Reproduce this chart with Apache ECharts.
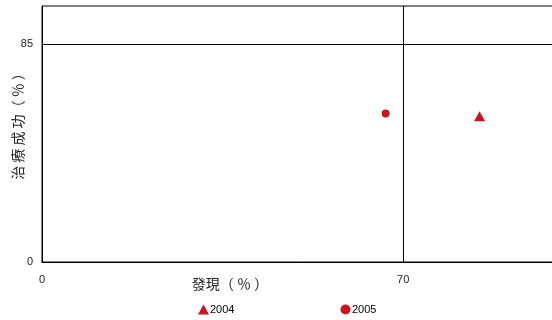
<!DOCTYPE html>
<html><head><meta charset="utf-8">
<script src="https://cdn.jsdelivr.net/npm/echarts@6/dist/echarts.min.js"></script>
<style>html,body{margin:0;padding:0;background:#fff}#c{width:552px;height:320px}</style>
</head><body><div id="c"></div>
<script>
const seriesNames = ['2004', '2005'];
const data2004 = [[84.8, 56.9]];
const data2005 = [[66.6, 58.0]];
const xLabels = [0, 70];
const yLabels = [0, 85];
const refX = 70;
const refY = 85;
const xTitle = '發現（ ％ ）';
const yTitle = '治 療 成 功（ ％ ）';

const chart = echarts.init(document.getElementById('c'), null, {renderer: 'canvas'});
const red = '#C8151D';
chart.setOption({
  animation: false,
  grid: {left: 42, right: -6, top: 6, bottom: 58, containLabel: false, outerBoundsMode: 'none',
    show: true, borderColor: '#000', borderWidth: 1, backgroundColor: 'transparent'},
  xAxis: {
    type: 'value', min: 0, max: 100, interval: 10,
    axisLine: {show: true, lineStyle: {color: '#000'}},
    axisTick: {show: false}, splitLine: {show: false},
    axisLabel: {margin: 12, fontFamily: 'Liberation Sans', fontSize: 11, color: '#222',
      formatter: v => xLabels.includes(v) ? String(v) : ''},
    name: xTitle, nameLocation: 'middle', nameGap: 15, nameMoveOverlap: false,
    nameTextStyle: {fontFamily: 'Noto Sans CJK TC', fontSize: 14, color: '#222', padding: [0, 140, 0, 0]}
  },
  yAxis: {
    type: 'value', min: 0, max: 100, interval: 5,
    axisLine: {show: true, lineStyle: {color: '#000'}},
    axisTick: {show: false}, splitLine: {show: false},
    axisLabel: {margin: 9, fontFamily: 'Liberation Sans', fontSize: 11, color: '#222',
      formatter: v => yLabels.includes(v) ? String(v) : ''},
    name: yTitle, nameLocation: 'middle', nameGap: 17, nameRotate: 90, nameMoveOverlap: false,
    nameTextStyle: {fontFamily: 'Noto Sans CJK TC', fontSize: 14, color: '#222', padding: [0, 0, 0, 22]}
  },
  legend: {
    bottom: 0, left: 193, itemGap: 106, itemWidth: 11, itemHeight: 10,
    textStyle: {fontFamily: 'Liberation Sans', fontSize: 11, color: '#000', padding: [0, 0, 0, -4]},
    data: [{name: seriesNames[0], icon: 'triangle'}, {name: seriesNames[1], icon: 'circle'}]
  },
  series: [
    {name: seriesNames[0], type: 'scatter', symbol: 'triangle', symbolSize: [11, 10],
     itemStyle: {color: red, opacity: 1}, data: data2004,
     markLine: {silent: true, symbol: 'none', label: {show: false},
       lineStyle: {color: '#000', type: 'solid', width: 1},
       data: [{xAxis: refX}, {yAxis: refY}]}},
    {name: seriesNames[1], type: 'scatter', symbol: 'circle', symbolSize: 8,
     itemStyle: {color: red, opacity: 1}, data: data2005}
  ]
});
</script></body></html>
